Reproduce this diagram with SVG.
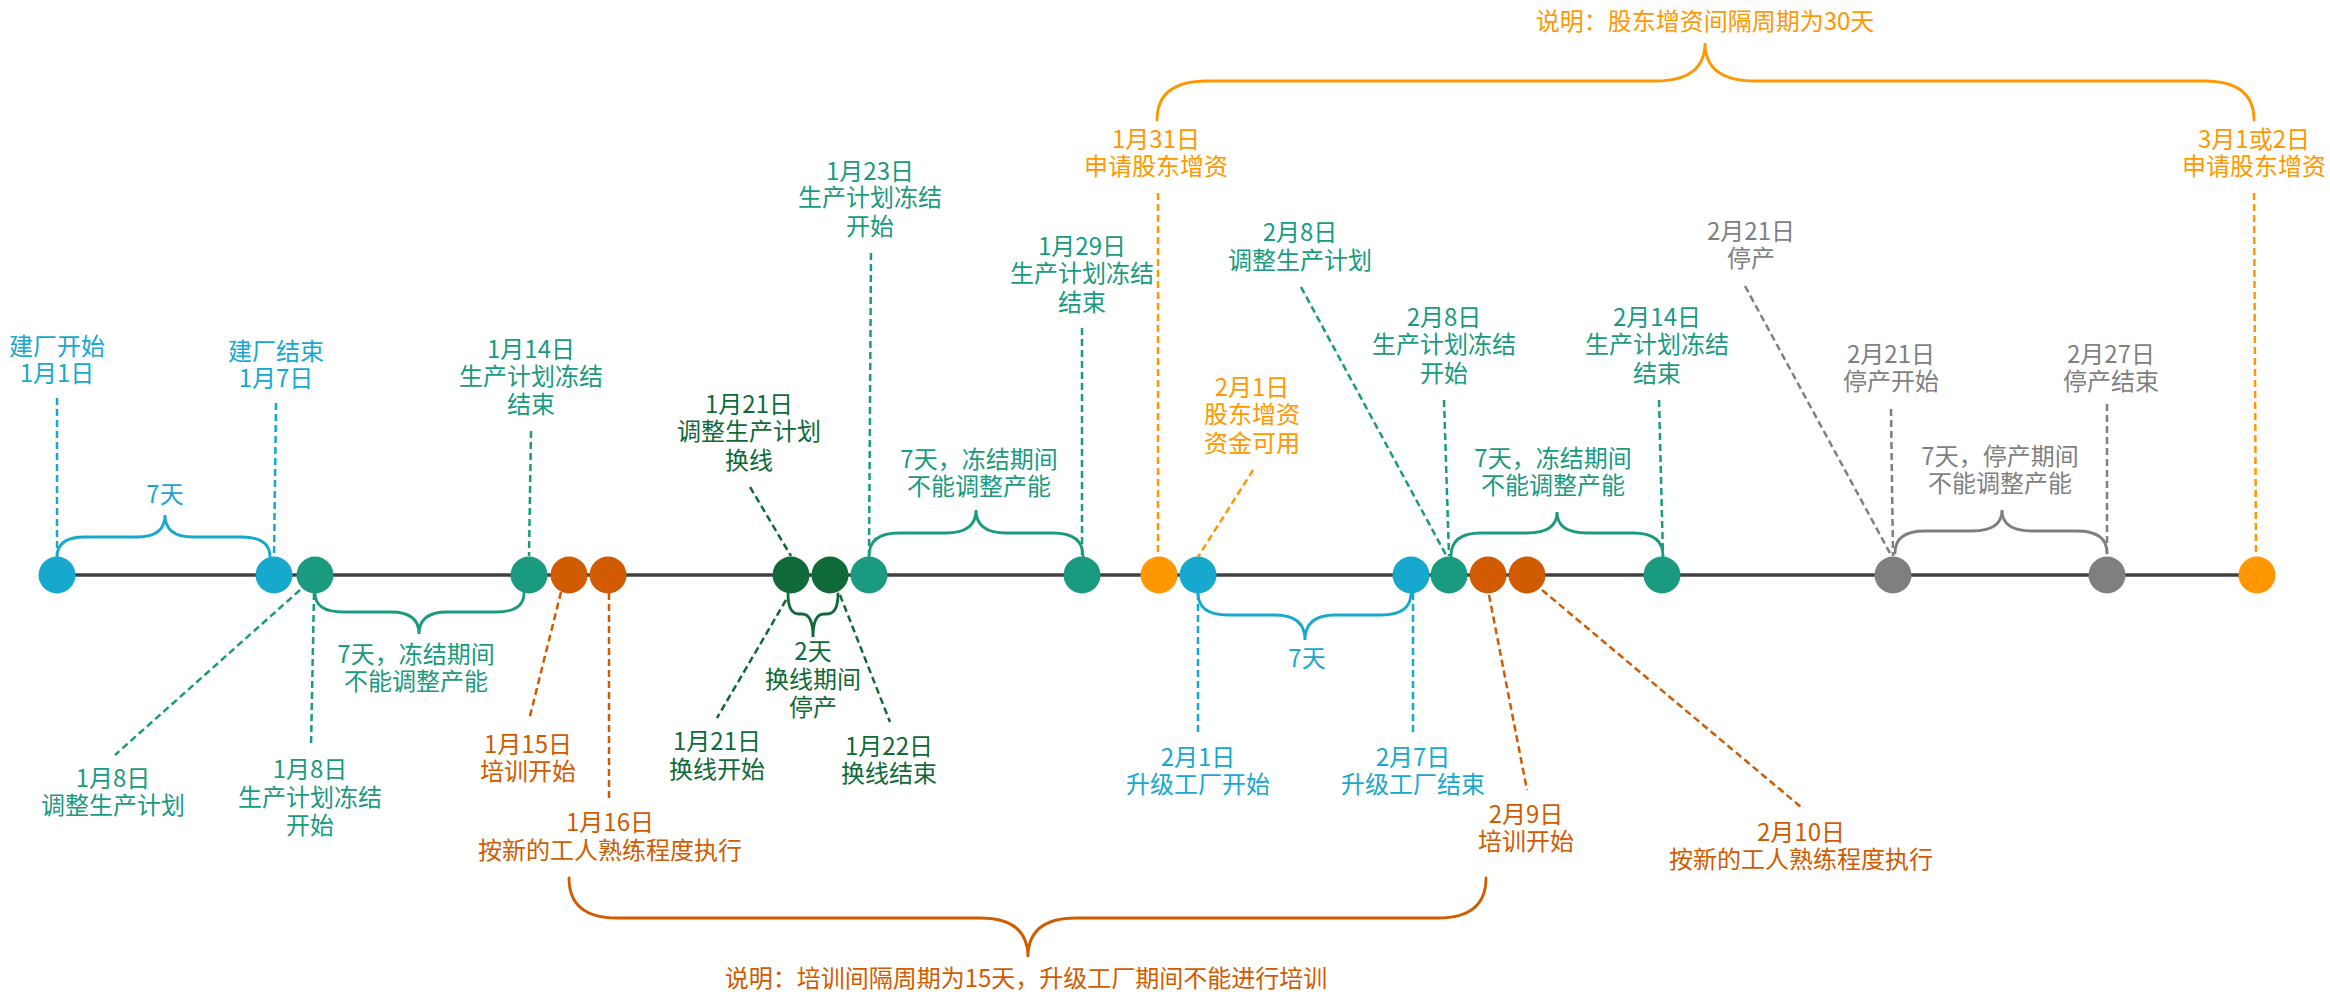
<svg xmlns="http://www.w3.org/2000/svg" width="2330" height="992" viewBox="0 0 2330 992">
<style>
text{font-family:"Noto Sans CJK SC","Microsoft YaHei",sans-serif;font-size:24px;text-anchor:middle}
.cy{fill:#17A8CD}.tl{fill:#1A9A7E}.or{fill:#D05B00}.dg{fill:#0F6A37}.og{fill:#FF9800}.gy{fill:#7F7F7F}
.d{fill:none;stroke-width:2.5;stroke-dasharray:7 4}
.b{fill:none;stroke-width:2.8;stroke-linecap:round}
.scy{stroke:#17A8CD}.stl{stroke:#1A9A7E}.sor{stroke:#D05B00}.sdg{stroke:#0F6A37}.sog{stroke:#FF9800}.sgy{stroke:#7F7F7F}
</style>
<rect width="2330" height="992" fill="#ffffff"/>
<line x1="57" y1="575" x2="2257" y2="575" stroke="#404040" stroke-width="3.5"/>
<g id="connectors">
<line class="d scy" x1="57" y1="398" x2="57" y2="556"/>
<line class="d scy" x1="276" y1="403" x2="274" y2="556"/>
<line class="d scy" x1="1198" y1="593" x2="1198" y2="733"/>
<line class="d scy" x1="1413" y1="593" x2="1413" y2="733"/>
<line class="d stl" x1="300" y1="590" x2="115" y2="755"/>
<line class="d stl" x1="314" y1="593" x2="311" y2="747"/>
<line class="d stl" x1="531" y1="431" x2="529" y2="556"/>
<line class="d stl" x1="871" y1="253" x2="869" y2="556"/>
<line class="d stl" x1="1082" y1="328" x2="1082" y2="556"/>
<line class="d stl" x1="1301" y1="287" x2="1446" y2="555"/>
<line class="d stl" x1="1444" y1="400" x2="1449" y2="556"/>
<line class="d stl" x1="1659" y1="400" x2="1663" y2="556"/>
<line class="d sor" x1="561" y1="592" x2="529" y2="720"/>
<line class="d sor" x1="609" y1="593" x2="609" y2="800"/>
<line class="d sor" x1="1489" y1="595" x2="1527" y2="790"/>
<line class="d sor" x1="1542" y1="590" x2="1801" y2="807"/>
<line class="d sdg" x1="750" y1="487" x2="791" y2="556"/>
<line class="d sdg" x1="786" y1="600" x2="717" y2="718"/>
<line class="d sdg" x1="840" y1="595" x2="890" y2="722"/>
<line class="d sog" x1="1158" y1="193" x2="1158" y2="556"/>
<line class="d sog" x1="1253" y1="470" x2="1198" y2="557"/>
<line class="d sog" x1="2254" y1="193" x2="2256" y2="556"/>
<line class="d sgy" x1="1745" y1="286" x2="1891" y2="555"/>
<line class="d sgy" x1="1891" y1="409" x2="1893" y2="556"/>
<line class="d sgy" x1="2107" y1="404" x2="2107" y2="556"/>
<path class="b scy" d="M57,557 Q57,537 85,537 L137,537 Q165,537 165,515 Q165,537 193,537 L242,537 Q270,537 270,557"/>
<path class="b stl" d="M315,593 Q315,612 343,612 L391,612 Q419,612 419,634 Q419,612 447,612 L496,612 Q524,612 524,593"/>
<path class="b sdg" d="M788,594 Q788,614 799,614 L802,614 Q813,614 813,637 Q813,614 824,614 L827,614 Q838,614 838,594"/>
<path class="b stl" d="M869,556 Q869,533 899,533 L946,533 Q976,533 976,510 Q976,533 1006,533 L1053,533 Q1083,533 1083,556"/>
<path class="b scy" d="M1198,593 Q1198,615 1228,615 L1275,615 Q1305,615 1305,640 Q1305,615 1335,615 L1381,615 Q1411,615 1411,593"/>
<path class="b stl" d="M1451,556 Q1451,533 1481,533 L1527,533 Q1557,533 1557,512 Q1557,533 1587,533 L1633,533 Q1663,533 1663,556"/>
<path class="b sgy" d="M1895,553 Q1895,531 1925,531 L1972,531 Q2002,531 2002,510 Q2002,531 2032,531 L2077,531 Q2107,531 2107,553"/>
<path class="b sog" d="M1157,120 Q1157,81 1207,81 L1655,81 Q1705,81 1705,43 Q1705,81 1755,81 L2204,81 Q2254,81 2254,120"/>
<path class="b sor" d="M569,878 Q569,918 617,918 L980,918 Q1028,918 1028,957 Q1028,918 1076,918 L1438,918 Q1486,918 1486,878"/>
</g>
<g id="n-jan1"><circle class="cy" cx="57" cy="575" r="18.5"/><text class="cy" x="57" y="355">建厂开始<tspan x="57" dy="27">1月1日</tspan></text></g>
<g id="n-jan7"><circle class="cy" cx="274" cy="575" r="18.5"/><text class="cy" x="276" y="360">建厂结束<tspan x="276" dy="27">1月7日</tspan></text></g>
<g id="n-jan8"><circle class="tl" cx="315" cy="575" r="18.5"/>
<text class="tl" x="113" y="787">1月8日<tspan x="113" dy="27">调整生产计划</tspan></text>
<text class="tl" x="310" y="778">1月8日<tspan x="310" dy="28">生产计划冻结</tspan><tspan x="310" dy="28">开始</tspan></text></g>
<g id="n-jan14"><circle class="tl" cx="529" cy="575" r="18.5"/><text class="tl" x="531" y="358">1月14日<tspan x="531" dy="27">生产计划冻结</tspan><tspan x="531" dy="28">结束</tspan></text></g>
<g id="n-jan15"><circle class="or" cx="569" cy="575" r="18.5"/><text class="or" x="528" y="753">1月15日<tspan x="528" dy="27">培训开始</tspan></text></g>
<g id="n-jan16"><circle class="or" cx="608" cy="575" r="18.5"/><text class="or" x="610" y="831">1月16日<tspan x="610" dy="28">按新的工人熟练程度执行</tspan></text></g>
<g id="n-jan21"><circle class="dg" cx="791" cy="575" r="18.5"/>
<text class="dg" x="749" y="413">1月21日<tspan x="749" dy="27">调整生产计划</tspan><tspan x="749" dy="29">换线</tspan></text>
<text class="dg" x="717" y="750">1月21日<tspan x="717" dy="28">换线开始</tspan></text></g>
<g id="n-jan22"><circle class="dg" cx="830" cy="575" r="18.5"/><text class="dg" x="889" y="755">1月22日<tspan x="889" dy="27">换线结束</tspan></text></g>
<g id="n-jan23"><circle class="tl" cx="869" cy="575" r="18.5"/><text class="tl" x="870" y="180">1月23日<tspan x="870" dy="26">生产计划冻结</tspan><tspan x="870" dy="29">开始</tspan></text></g>
<g id="n-jan29"><circle class="tl" cx="1082" cy="575" r="18.5"/><text class="tl" x="1082" y="255">1月29日<tspan x="1082" dy="27">生产计划冻结</tspan><tspan x="1082" dy="29">结束</tspan></text></g>
<g id="n-jan31"><circle class="og" cx="1159" cy="575" r="18.5"/><text class="og" x="1156" y="148">1月31日<tspan x="1156" dy="27">申请股东增资</tspan></text></g>
<g id="n-feb1"><circle class="cy" cx="1198" cy="575" r="18.5"/>
<text class="og" x="1252" y="396">2月1日<tspan x="1252" dy="27">股东增资</tspan><tspan x="1252" dy="29">资金可用</tspan></text>
<text class="cy" x="1198" y="766">2月1日<tspan x="1198" dy="27">升级工厂开始</tspan></text></g>
<g id="n-feb7"><circle class="cy" cx="1411" cy="575" r="18.5"/><text class="cy" x="1413" y="766">2月7日<tspan x="1413" dy="27">升级工厂结束</tspan></text></g>
<g id="n-feb8"><circle class="tl" cx="1449" cy="575" r="18.5"/>
<text class="tl" x="1300" y="241">2月8日<tspan x="1300" dy="28">调整生产计划</tspan></text>
<text class="tl" x="1444" y="326">2月8日<tspan x="1444" dy="27">生产计划冻结</tspan><tspan x="1444" dy="29">开始</tspan></text></g>
<g id="n-feb9"><circle class="or" cx="1488" cy="575" r="18.5"/><text class="or" x="1526" y="823">2月9日<tspan x="1526" dy="27">培训开始</tspan></text></g>
<g id="n-feb10"><circle class="or" cx="1527" cy="575" r="18.5"/><text class="or" x="1801" y="841">2月10日<tspan x="1801" dy="27">按新的工人熟练程度执行</tspan></text></g>
<g id="n-feb14"><circle class="tl" cx="1662" cy="575" r="18.5"/><text class="tl" x="1657" y="326">2月14日<tspan x="1657" dy="27">生产计划冻结</tspan><tspan x="1657" dy="29">结束</tspan></text></g>
<g id="n-feb21"><circle class="gy" cx="1893" cy="575" r="18.5"/>
<text class="gy" x="1751" y="240">2月21日<tspan x="1751" dy="27">停产</tspan></text>
<text class="gy" x="1891" y="363">2月21日<tspan x="1891" dy="27">停产开始</tspan></text></g>
<g id="n-feb27"><circle class="gy" cx="2107" cy="575" r="18.5"/><text class="gy" x="2111" y="363">2月27日<tspan x="2111" dy="27">停产结束</tspan></text></g>
<g id="n-mar1"><circle class="og" cx="2257" cy="575" r="18.5"/><text class="og" x="2254" y="148">3月1或2日<tspan x="2254" dy="27">申请股东增资</tspan></text></g>
<g id="brace-labels">
<text class="cy" x="165" y="503">7天</text>
<text class="tl" x="416" y="663">7天，冻结期间<tspan x="416" dy="27">不能调整产能</tspan></text>
<text class="dg" x="813" y="660">2天<tspan x="813" dy="28">换线期间</tspan><tspan x="813" dy="28">停产</tspan></text>
<text class="tl" x="979" y="468">7天，冻结期间<tspan x="979" dy="27">不能调整产能</tspan></text>
<text class="cy" x="1307" y="667">7天</text>
<text class="tl" x="1553" y="467">7天，冻结期间<tspan x="1553" dy="27">不能调整产能</tspan></text>
<text class="gy" x="2000" y="465">7天，停产期间<tspan x="2000" dy="27">不能调整产能</tspan></text>
<text class="og" x="1705" y="30">说明：股东增资间隔周期为30天</text>
<text class="or" x="1026" y="987">说明：培训间隔周期为15天，升级工厂期间不能进行培训</text>
</g>
</svg>
